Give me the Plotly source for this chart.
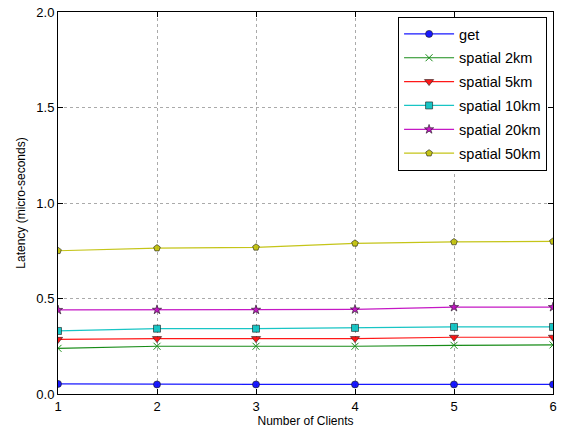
import plotly.graph_objects as go

clients = [1, 2, 3, 4, 5, 6]
get = [0.053, 0.050, 0.050, 0.050, 0.050, 0.050]
spatial_2km = [0.239, 0.250, 0.250, 0.250, 0.255, 0.257]
spatial_5km = [0.286, 0.290, 0.290, 0.290, 0.297, 0.297]
spatial_10km = [0.330, 0.342, 0.342, 0.346, 0.351, 0.351]
spatial_20km = [0.440, 0.441, 0.441, 0.443, 0.455, 0.455]
spatial_50km = [0.750, 0.764, 0.768, 0.789, 0.796, 0.799]

series = [
    ("get", get, "#0000ff", "circle", 7, "black"),
    ("spatial 2km", spatial_2km, "#008000", "x-thin", 7, "#008000"),
    ("spatial 5km", spatial_5km, "#ff0000", "triangle-down", 8, "black"),
    ("spatial 10km", spatial_10km, "#00bfbf", "square", 7, "black"),
    ("spatial 20km", spatial_20km, "#bf00bf", "star", 7, "black"),
    ("spatial 50km", spatial_50km, "#bfbf00", "pentagon", 7, "black"),
]

fig = go.Figure()
for i, (name, vals, color, sym, size, edge) in enumerate(series):
    fig.add_trace(go.Scatter(
        x=clients, y=vals, name=name, mode="lines+markers",
        legendgroup=f"g{i}",
        line=dict(color=color, width=1.2),
        opacity=0.9,
        marker=dict(symbol=sym, size=size, color=color,
                    line=dict(color=edge, width=1 if sym == "x-thin" else 0.6)),
    ))

FONT = "Liberation Sans, Arial, sans-serif"
axis_common = dict(
    showline=True, linecolor="black", linewidth=1, mirror="ticks",
    ticks="inside", ticklen=5, tickcolor="black",
    showgrid=True, gridcolor="#aaaaaa", griddash="dot", gridwidth=1,
    zeroline=False, automargin=False,
    tickfont=dict(family=FONT, size=13, color="black"),
)

fig.update_xaxes(range=[1, 6], dtick=1, tick0=1,
                 title=dict(text="Number of Clients", standoff=4,
                            font=dict(family=FONT, size=12, color="black")),
                 **axis_common)
fig.update_yaxes(range=[0, 2.0], dtick=0.5, tickformat=".1f",
                 title=dict(text="Latency (micro-seconds)", standoff=8,
                            font=dict(family=FONT, size=12, color="black")),
                 **axis_common)

fig.update_layout(
    width=563, height=430,
    margin=dict(l=58, r=10, t=12, b=36),
    plot_bgcolor="white", paper_bgcolor="white",
    font=dict(family=FONT, color="black"),
    legend=dict(x=0.687, y=0.987, xanchor="left", yanchor="top",
                bgcolor="white", bordercolor="black", borderwidth=1,
                font=dict(size=14.5, color="black"), itemwidth=50,
                tracegroupgap=2),
)

fig.write_html("out.html")
